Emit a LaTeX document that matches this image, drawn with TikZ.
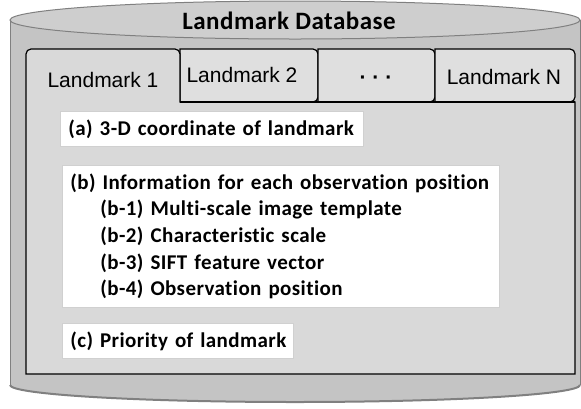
\documentclass[tikz,border=0pt]{standalone}
\usepackage{fontspec}
\usepackage{tikz}
\usepackage{xcolor}
\newfontfamily\boxfont{Carlito}[LetterSpace=2, Ligatures=NoCommon]
\newfontfamily\tabfont{Liberation Sans}
\definecolor{cylgray}{RGB}{196,196,196}
\definecolor{cyltop}{RGB}{206,206,206}
\definecolor{cylline}{RGB}{128,128,128}
\definecolor{panelgray}{RGB}{217,217,217}
\definecolor{tabgray}{RGB}{223,223,223}
\definecolor{boxline}{RGB}{208,208,208}

\begin{document}
\begin{tikzpicture}[x=1pt, y=-1pt,
    infobox/.style={draw=boxline, line width=0.8pt, fill=white, anchor=north west,
        align=left, inner xsep=8pt, inner ysep=0pt,
        font=\boxfont\bfseries\fontsize{21}{26.7}\selectfont},
    tablabel/.style={font=\tabfont\fontsize{21}{24}\selectfont, inner sep=0pt}]
    \useasboundingbox (0,0) rectangle (581,408);

    % Draw database cylinder
    \fill[cylgray] (10,20) -- (10,385) arc[start angle=180, end angle=0, x radius=285, y radius=17]
        -- (580,20) -- cycle;
    \draw[cylline, line width=2pt] (10,385) arc[start angle=180, end angle=0, x radius=285, y radius=17];
    \draw[cylline, line width=0.8pt] (10,20) -- (10,385);
    \draw[cylline, line width=0.8pt] (580,20) -- (580,385);
    \draw[cylline, line width=1pt, fill=cyltop] (295,20) ellipse [x radius=285, y radius=19];
    \node[font=\boxfont\bfseries\fontsize{25}{28}\selectfont, inner sep=0pt] (title) at (289,21) {Landmark Database};

    % Draw panel and tabs
    \draw[line width=1.2pt, fill=tabgray] (180,102) -- (180,49) [rounded corners=5pt] -- (318,49) -- (318,102)
        [sharp corners] -- cycle;
    \draw[line width=1.2pt, fill=tabgray] (318,102) -- (318,49) [rounded corners=5pt] -- (435,49) -- (435,102)
        [sharp corners] -- cycle;
    \draw[line width=1.2pt, fill=tabgray] (435,102) -- (435,49) [rounded corners=5pt] -- (575,49) -- (575,102)
        [sharp corners] -- cycle;
    \draw[line width=1.2pt, fill=panelgray] (180,102) -- (575,102) -- (575,374) -- (26,374)
        [rounded corners=5pt] -- (26,49) -- (180,49) [sharp corners] -- cycle;
    \draw[line width=1.2pt] (180,102) -- (575,102);

    % Tab labels
    \node[tablabel] (tab1) at (103,80) {Landmark 1};
    \node[tablabel] (tab2) at (242,75) {Landmark 2};
    \node[tablabel, font=\tabfont\bfseries\fontsize{21}{24}\selectfont] (tab3) at (376,80) {· · ·};
    \node[tablabel] (tabN) at (504,77) {Landmark N};

    % Stored information
    \node[infobox, text width=287pt, minimum height=35pt] (coord) at (60,111)
        {(a) 3-D coordinate of landmark};
    \node[infobox, text width=421pt, minimum height=142pt] (obs) at (62,165)
        {(b) Information for each observation position\\
         \hspace*{30pt}(b-1) Multi-scale image template\\
         \hspace*{30pt}(b-2) Characteristic scale\\
         \hspace*{30pt}(b-3) SIFT feature vector\\
         \hspace*{30pt}(b-4) Observation position};
    \node[infobox, text width=215pt, minimum height=35pt] (prio) at (62,323)
        {(c) Priority of landmark};
\end{tikzpicture}
\end{document}
